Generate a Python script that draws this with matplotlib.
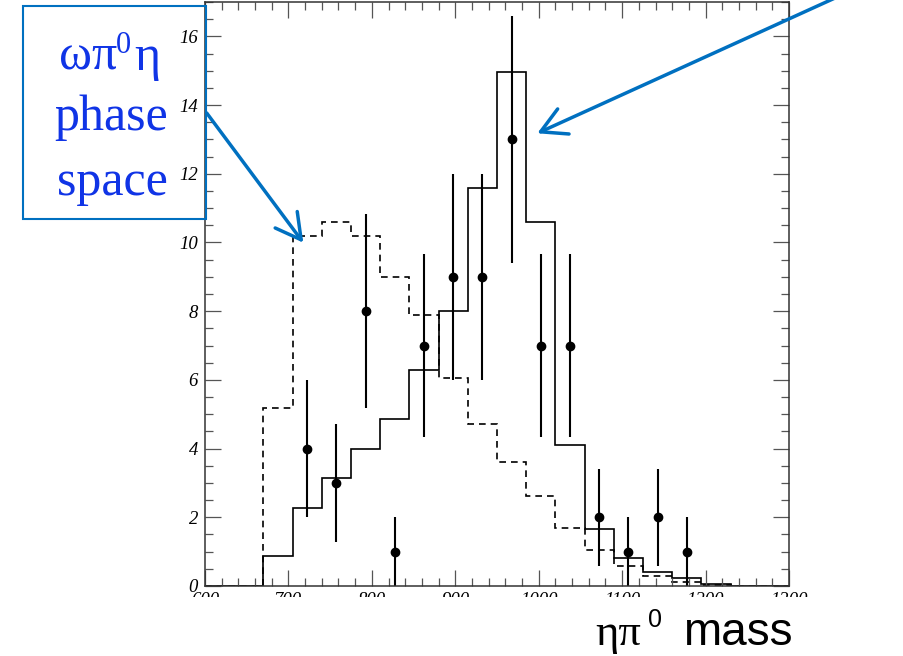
import numpy as np
import matplotlib
matplotlib.use("Agg")
import matplotlib.pyplot as plt
import matplotlib.patches as mpatches
from matplotlib.ticker import MultipleLocator

# bin edges of the eta pi0 mass histogram (MeV)
edges = np.arange(600, 1301, 35)

# signal-like histogram (solid) and omega pi0 eta phase space (dashed)
solid_vals = [0, 0, 0.86, 2.26, 3.14, 3.98, 4.87, 6.3, 8.01, 11.59, 14.95, 10.59,
              4.1, 1.67, 0.82, 0.4, 0.22, 0.06, 0, 0]
dashed_vals = [0, 0, 5.19, 10.2, 10.61, 10.2, 9.0, 7.9, 6.05, 4.73, 3.61, 2.63,
               1.68, 1.05, 0.59, 0.29, 0.12, 0.03, 0, 0]

# data points
data_x = [722.5, 757.5, 792.5, 827.5, 862.5, 897.5, 932.5, 967.5, 1002.5, 1037.5,
          1072.5, 1107.5, 1142.5, 1177.5]
data_y = [4, 3, 8, 1, 7, 9, 9, 13, 7, 7, 2, 1, 2, 1]
data_err = [2, 1.73, 2.83, 1, 2.65, 3, 3, 3.6, 2.65, 2.65, 1.41, 1, 1.41, 1]

W, H = 904, 656
fig = plt.figure(figsize=(W / 100, H / 100), dpi=100)
ax = fig.add_axes([205 / W, 1 - 586 / H, 584 / W, 584 / H])

ax.stairs(solid_vals, edges, baseline=0, color="black", lw=1.2)
ax.stairs(dashed_vals, edges, baseline=0, color="black", lw=1.2, linestyle=(0, (4, 3)))
ax.errorbar(data_x, data_y, yerr=data_err, fmt="o", color="black", ms=6,
            elinewidth=1.5, capsize=0)

ax.set_xlim(600, 1300)
ax.set_ylim(0, 17)
ax.xaxis.set_major_locator(MultipleLocator(100))
ax.xaxis.set_minor_locator(MultipleLocator(20))
ax.yaxis.set_major_locator(MultipleLocator(2))
ax.yaxis.set_minor_locator(MultipleLocator(0.5))
ax.tick_params(which="both", direction="in", top=True, right=True, color="#555555", width=0.9)
ax.tick_params(which="major", length=11.5)
ax.tick_params(which="minor", length=5.5)
ax.tick_params(axis="x", pad=4)
ax.tick_params(axis="y", pad=5)
for lab in ax.get_xticklabels() + ax.get_yticklabels():
    lab.set_fontfamily("Liberation Serif")
    lab.set_fontstyle("italic")
    lab.set_fontsize(13.5)
for sp in ax.spines.values():
    sp.set_color("#333333")
    sp.set_linewidth(1.1)

# white strip that cuts off the lower half of the x tick labels
fig.add_artist(mpatches.Rectangle((0, 0), 1, (H - 597) / H, transform=fig.transFigure,
                                  facecolor="white", edgecolor="none", zorder=1))

# annotation box
blue_line = "#0070C0"
blue_text = "#1034E6"
fig.add_artist(mpatches.Rectangle((22.7 / W, 1 - 219 / H), 183 / W, 213 / H,
                                  transform=fig.transFigure, fill=False,
                                  edgecolor=blue_line, lw=1.5, zorder=2))
serif = "Liberation Serif"
fig.text(59 / W, 1 - 70 / H, "ωπ", family=serif, size=36, color=blue_text,
         ha="left", va="baseline")
fig.text(116 / W, 1 - 53 / H, "0", family=serif, size=22, color=blue_text,
         ha="left", va="baseline")
fig.text(134 / W, 1 - 70 / H, "η", family=serif, size=36, color=blue_text,
         ha="left", va="baseline")
fig.text(111 / W, 1 - 130 / H, "phase", family=serif, size=36, color=blue_text,
         ha="center", va="baseline")
fig.text(112 / W, 1 - 195 / H, "space", family=serif, size=36, color=blue_text,
         ha="center", va="baseline")

# arrows
style = "->,head_length=1.0,head_width=0.55"
for (xa, ya), (xb, yb) in [((206.7, 113), (303.3, 242.7)), ((835, -2), (537.3, 133.3))]:
    fig.add_artist(mpatches.FancyArrowPatch((xa / W, 1 - ya / H), (xb / W, 1 - yb / H),
                                            transform=fig.transFigure, arrowstyle=style,
                                            mutation_scale=18, lw=2.5, color=blue_line,
                                            shrinkA=0, shrinkB=0, zorder=3))

# x axis title
fig.text(595 / W, 11 / H, "ηπ", family=serif, size=32, color="black", ha="left",
         va="baseline", zorder=4)
fig.text(648 / W, 29 / H, "0", family="Liberation Sans", size=18, color="black",
         ha="left", va="baseline", zorder=4)
fig.text(683 / W, 11 / H, "mass", family="Liberation Sans", size=33, color="black",
         ha="left", va="baseline", zorder=4)

fig.savefig("out.png", dpi=100)
